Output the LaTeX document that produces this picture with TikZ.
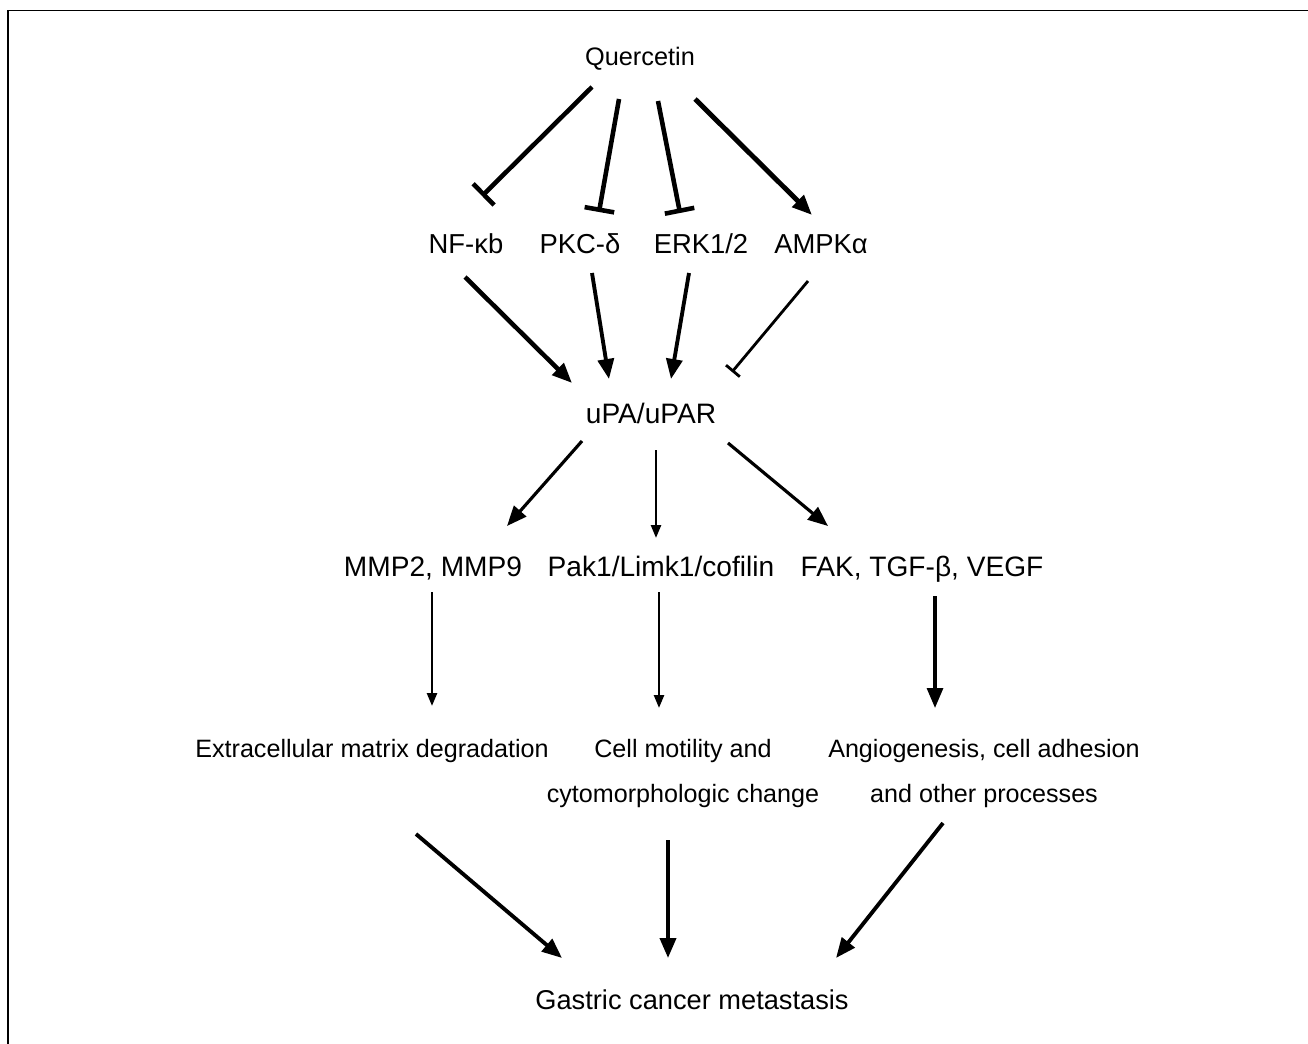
\documentclass[tikz,border=0pt]{standalone}
\usepackage{fontspec}
\setmainfont{Liberation Sans}
\usetikzlibrary{arrows.meta,calc}

\tikzset{
  lbl/.style={anchor=base, inner sep=0pt, font=\fontsize{#1}{25.6}\selectfont},
  lbl/.default=14.3,
  act/.style={line width=#1, -{Triangle[length=0.4cm, width=0.32cm]}},
  act/.default=2.6pt,
  inh/.style={line width=#1, -{Bar[width=0.6cm]}},
  inh/.default=2.6pt,
  thin act/.style={line width=1.4pt, -{Triangle[length=0.26cm, width=0.2cm]}},
}

\begin{document}
\begin{tikzpicture}[x=0.02cm, y=-0.02cm]
\useasboundingbox (0,0) rectangle (1308,1044);
% frame
\draw [line width=1.1pt] (8,1044) -- (8,10.5) -- (1308,10.5);

% nodes
\node [lbl=14.4] (quer) at (640,66) {Quercetin};
\node [lbl=15.6] (nfkb) at (466,254) {NF-κb};
\node [lbl=15.6] (pkc) at (580,254) {PKC-δ};
\node [lbl=15.6] (erk) at (701,254) {ERK1/2};
\node [lbl=15.6] (ampk) at (821,254) {AMPKα};
\node [lbl=16] (upa) at (651,423) {uPA/uPAR};
\node [lbl=16] (mmp) at (433,576) {MMP2, MMP9};
\node [lbl=16] (pak) at (661,576) {Pak1/Limk1/cofilin};
\node [lbl=16] (fak) at (922,576) {FAK, TGF-β, VEGF};
\node [lbl] (ecm) at (372,757) {Extracellular matrix degradation};
\node [lbl, align=center] (cell) at (683,802) {Cell motility and\\cytomorphologic change};
\node [lbl, align=center] (ang) at (984,802) {Angiogenesis, cell adhesion\\and other processes};
\node [lbl=15.5] (gcm) at (692,1009) {Gastric cancer metastasis};

% quercetin
\draw [inh] ($(quer.base)+(-48,21)$) -- ($(nfkb.base)+(16,-58)$);
\draw [inh] ($(quer.base)+(-21,33)$) -- ($(pkc.base)+(19,-42)$);
\draw [inh] ($(quer.base)+(18,35)$) -- ($(erk.base)+(-21,-41)$);
\draw [act=2.8pt] ($(quer.base)+(55,33)$) -- ($(ampk.base)+(-9,-39)$);

% to uPA/uPAR
\draw [act] ($(nfkb.base)+(-1,23)$) -- ($(upa.base)+(-79,-40)$);
\draw [act=2.2pt] ($(pkc.base)+(12,19)$) -- ($(upa.base)+(-42,-44)$);
\draw [act=2.2pt] ($(erk.base)+(-12,19)$) -- ($(upa.base)+(20,-44)$);
\draw [line width=1.6pt, -{Bar[width=0.36cm]}] ($(ampk.base)+(-13,27)$) -- ($(upa.base)+(81,-51)$);

% from uPA/uPAR
\draw [act=1.8pt] ($(upa.base)+(-69,18)$) -- ($(mmp.base)+(74,-50)$);
\draw [thin act] ($(upa.base)+(5,27)$) -- ($(pak.base)+(-5,-38)$);
\draw [act=1.8pt] ($(upa.base)+(77,20)$) -- ($(fak.base)+(-94,-50)$);

\draw [thin act] ($(mmp.base)+(-1,16)$) -- ($(ecm.base)+(60,-51)$);
\draw [thin act] ($(pak.base)+(-2,16)$) -- ($(cell.base)+(-24,-94)$);
\draw [act=1.8pt] ($(fak.base)+(13,20)$) -- ($(ang.base)+(-49,-94)$);

% to metastasis
\draw [act=2.2pt] ($(ecm.base)+(44,77)$) -- ($(gcm.base)+(-130,-51)$);
\draw [act=2.2pt] ($(cell.base)+(-15,38)$) -- ($(gcm.base)+(-24,-51)$);
\draw [act=2.2pt] ($(ang.base)+(-41,21)$) -- ($(gcm.base)+(144,-51)$);
\end{tikzpicture}
\end{document}
